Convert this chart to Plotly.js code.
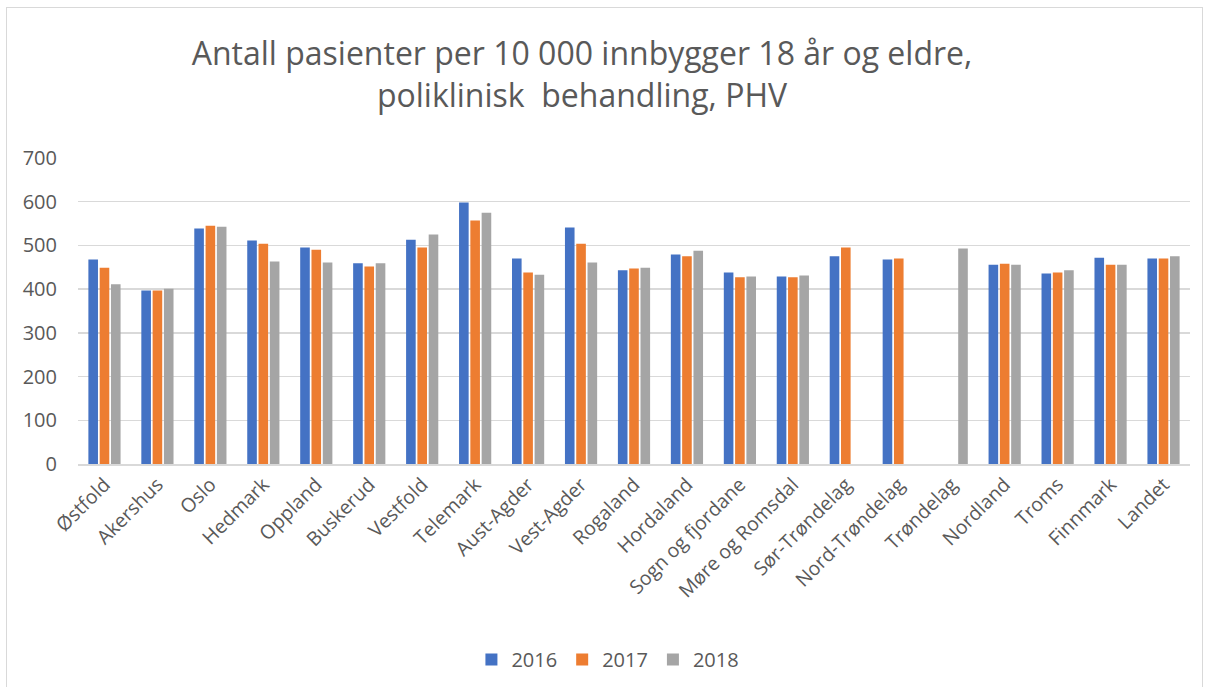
<!DOCTYPE html>
<html>
<head>
<meta charset="utf-8">
<script src="https://cdn.plot.ly/plotly-3.0.1.min.js"></script>
<style>
html,body{margin:0;padding:0;background:#fff;}
#frame{position:absolute;left:6px;top:7px;width:1197px;height:700px;border:1px solid #d9d9d9;box-sizing:border-box;}
#chart{position:absolute;left:0;top:0;width:1211px;height:687px;}
</style>
</head>
<body>
<div id="frame"></div>
<div id="chart"></div>
<script>
const categories = ["Østfold","Akershus","Oslo","Hedmark","Oppland","Buskerud","Vestfold","Telemark","Aust-Agder","Vest-Agder","Rogaland","Hordaland","Sogn og fjordane","Møre og Romsdal","Sør-Trøndelag","Nord-Trøndelag","Trøndelag","Nordland","Troms","Finnmark","Landet"];
const v2016 = [468,397,539,511,495,459,513,598,470,541,443,479,438,429,475,468,null,456,436,472,470];
const v2017 = [449,397,545,504,490,452,495,557,438,504,447,475,427,427,495,470,null,458,438,456,470];
const v2018 = [411,401,543,463,461,459,525,575,433,461,449,488,429,431,null,null,493,456,443,456,475];
const seriesNames = ["2016","2017","2018"];
const colors = ["#4472c4","#ed7d31","#a5a5a5"];

const font = "Open Sans, Noto Sans, sans-serif";
const traces = [v2016, v2017, v2018].map((vals, i) => ({
  type: "bar",
  name: seriesNames[i],
  x: categories,
  y: vals,
  marker: {color: colors[i]},
  hoverinfo: "x+y+name"
}));

const layout = {
  width: 1211, height: 687,
  paper_bgcolor: "rgba(0,0,0,0)",
  plot_bgcolor: "rgba(0,0,0,0)",
  margin: {l: 78, r: 21, t: 158, b: 223},
  barmode: "group",
  bargap: 0.36,
  bargroupgap: 0.15,
  title: {
    text: "Antall pasienter per 10 000 innbygger 18 år og eldre,<br>poliklinisk  behandling, PHV",
    font: {family: font, size: 32, color: "#595959"},
    x: 0.4806, xref: "container", xanchor: "center",
    y: 0.905, yref: "container", yanchor: "top"
  },
  font: {family: font, color: "#595959"},
  xaxis: {
    type: "category",
    tickangle: -45,
    tickfont: {family: font, size: 19.5, color: "#595959"},
    showgrid: false,
    showline: true, linecolor: "#d9d9d9", linewidth: 1.5,
    ticks: ""
  },
  yaxis: {
    range: [0, 700],
    dtick: 100,
    tickfont: {family: font, size: 20, color: "#595959"},
    gridcolor: "#d9d9d9", gridwidth: 1.5,
    zeroline: false,
    showline: false,
    ticklabelstandoff: 20
  },
  legend: {
    orientation: "h",
    x: 0.502, xref: "container", xanchor: "center",
    y: 0.04, yref: "container", yanchor: "middle",
    font: {family: font, size: 20, color: "#595959"},
    itemwidth: 30,
    traceorder: "normal"
  },
  showlegend: true
};

Plotly.newPlot("chart", traces, layout, {displayModeBar: false, staticPlot: true});
</script>
</body>
</html>
